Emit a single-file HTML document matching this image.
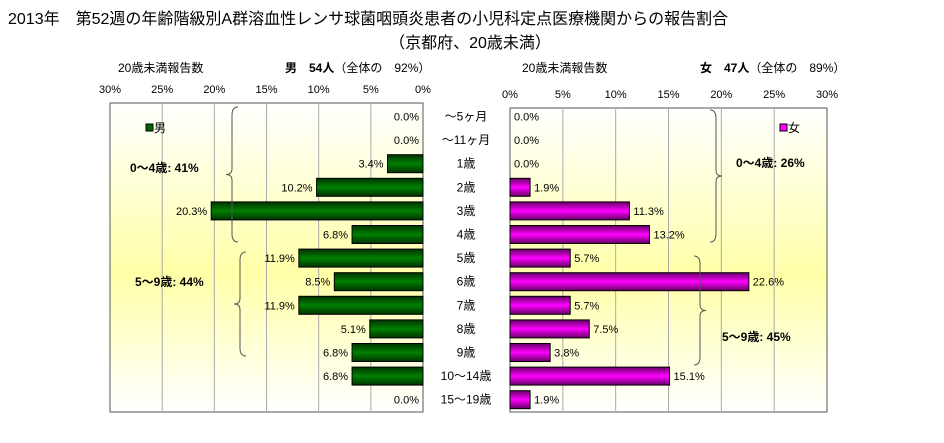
<!DOCTYPE html>
<html><head><meta charset="utf-8">
<style>
body{margin:0;background:#fff;}
svg{display:block;font-family:"Liberation Sans","Noto Sans CJK JP",sans-serif;}
</style></head>
<body>
<svg id="c" width="944" height="443" viewBox="0 0 944 443">
<defs>
<linearGradient id="bg" x1="0" y1="0" x2="0" y2="1">
<stop offset="0" stop-color="#ffffff"/><stop offset="0.55" stop-color="#ffffa8"/><stop offset="1" stop-color="#ffffff"/>
</linearGradient>
<linearGradient id="gm" x1="0" y1="0" x2="0" y2="1">
<stop offset="0" stop-color="#003300"/><stop offset="0.5" stop-color="#008000"/><stop offset="1" stop-color="#003300"/>
</linearGradient>
<linearGradient id="gf" x1="0" y1="0" x2="0" y2="1">
<stop offset="0" stop-color="#660066"/><stop offset="0.5" stop-color="#ff00ff"/><stop offset="1" stop-color="#660066"/>
</linearGradient>
</defs>
<text x="8" y="24" font-size="16">2013年　第52週の年齢階級別A群溶血性レンサ球菌咽頭炎患者の小児科定点医療機関からの報告割合</text>
<text x="470" y="48" font-size="16" text-anchor="middle">（京都府、20歳未満）</text>
<text x="118" y="72" font-size="12">20歳未満報告数</text>
<text x="285" y="72" font-size="12"><tspan font-weight="bold">男　54人</tspan>（全体の　92%）</text>
<text x="522" y="72" font-size="12">20歳未満報告数</text>
<text x="700" y="72" font-size="12"><tspan font-weight="bold">女　47人</tspan>（全体の　89%）</text>
<rect x="110" y="103" width="313" height="309" fill="url(#bg)" stroke="#555"/>
<rect x="510" y="108" width="317" height="304" fill="url(#bg)" stroke="#555"/>
<g id="g"></g>
</svg>
<script>
const categories=["～5ヶ月","～11ヶ月","1歳","2歳","3歳","4歳","5歳","6歳","7歳","8歳","9歳","10～14歳","15～19歳"];
const maleValues=[0.0,0.0,3.4,10.2,20.3,6.8,11.9,8.5,11.9,5.1,6.8,6.8,0.0];
const femaleValues=[0.0,0.0,0.0,1.9,11.3,13.2,5.7,22.6,5.7,7.5,3.8,15.1,1.9];
const tickValues=[0,5,10,15,20,25,30];
const NS="http://www.w3.org/2000/svg";
const g=document.getElementById('g');
function mk(t,a,txt){const e=document.createElementNS(NS,t);for(const k in a)e.setAttribute(k,a[k]);if(txt!=null)e.textContent=txt;g.appendChild(e);return e;}
const xL=v=>423-v*313/30, xR=v=>510+v*317/30, yC=i=>116.5+i*23.6, bh=18;
tickValues.forEach(t=>{
 let e;
 if(t>0&&t<30){e=mk('line',{x1:xL(t),x2:xL(t),y1:103,y2:412,stroke:'#aaa'});
 e=mk('line',{x1:xR(t),x2:xR(t),y1:108,y2:412,stroke:'#aaa'});}
 e=mk('text',{x:xL(t),y:93,'font-size':11,'text-anchor':'middle'},t+'%');
 e=mk('text',{x:xR(t),y:98,'font-size':11,'text-anchor':'middle'},t+'%');
});
categories.forEach((c,i)=>{
 const y=yC(i);let e;
 e=mk('text',{x:466,y:y+4,'font-size':12,'text-anchor':'middle'},c);
 const m=maleValues[i];
 if(m>0){e=mk('rect',{x:xL(m),y:y-bh/2,width:xL(0)-xL(m),height:bh,fill:'url(#gm)',stroke:'#000'});}
 e=mk('text',{x:xL(m)-4,y:y+4,'font-size':11,'text-anchor':'end'},m.toFixed(1)+'%');
 const f=femaleValues[i];
 if(f>0){e=mk('rect',{x:xR(0),y:y-bh/2,width:xR(f)-xR(0),height:bh,fill:'url(#gf)',stroke:'#000'});}
 e=mk('text',{x:xR(f)+4,y:y+4,'font-size':11},f.toFixed(1)+'%');
});
function brace(x,y1,y2,dir,name){const m=(y1+y2)/2,d=dir*6;
 const e=mk('path',{d:`M${x+d},${y1} Q${x},${y1} ${x},${y1+8} L${x},${m-6} Q${x},${m} ${x-d},${m} Q${x},${m} ${x},${m+6} L${x},${y2-8} Q${x},${y2} ${x+d},${y2}`,fill:'none',stroke:'#555'});
 }
brace(232,107,242,1,'male-brace-0-4');
brace(240,252,356,1,'male-brace-5-9');
brace(716,110,242,-1,'female-brace-0-4');
brace(700,256,365,-1,'female-brace-5-9');
let e;
e=mk('text',{x:130,y:172,'font-size':12,'font-weight':'bold'},'0～4歳:  41%');
e=mk('text',{x:135,y:286,'font-size':12,'font-weight':'bold'},'5～9歳:  44%');
e=mk('text',{x:736,y:167,'font-size':12,'font-weight':'bold'},'0～4歳:  26%');
e=mk('text',{x:722,y:341,'font-size':12,'font-weight':'bold'},'5～9歳:  45%');
e=mk('rect',{x:146,y:124,width:7,height:7,fill:'#006400',stroke:'#000'});
e=mk('text',{x:154,y:132,'font-size':12},'男');
e=mk('rect',{x:780,y:124,width:7,height:7,fill:'#ff00ff',stroke:'#000'});
e=mk('text',{x:788,y:132,'font-size':12},'女');
</script>
</body></html>
